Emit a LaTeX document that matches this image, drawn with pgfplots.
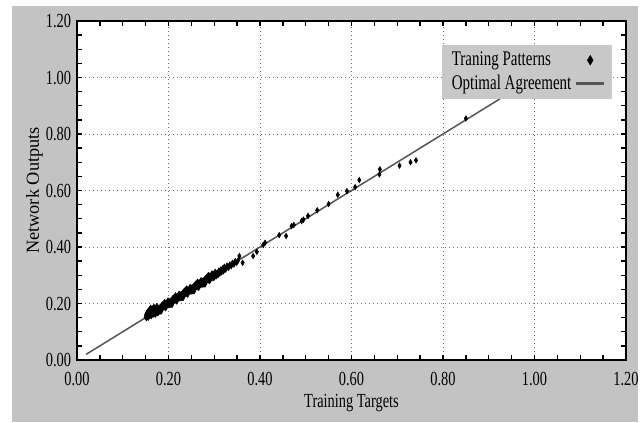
\documentclass[border=0pt]{standalone}
\usepackage{fontspec}
\setmainfont{Liberation Serif}[FakeStretch=0.72]
\newfontfamily\ylabfont{Liberation Serif}
\usepackage{pgfplots}
\pgfplotsset{compat=1.18}
\definecolor{panelgray}{HTML}{C3C3C3}
\definecolor{leggray}{HTML}{C8C8C8}
\definecolor{linegray}{HTML}{555555}

% scatter of training patterns (target, output)
\pgfplotstableread{
x y
0.150 0.152
0.151 0.160
0.152 0.148
0.153 0.166
0.154 0.155
0.155 0.172
0.156 0.150
0.157 0.162
0.158 0.178
0.159 0.158
0.160 0.168
0.161 0.185
0.162 0.155
0.163 0.174
0.164 0.164
0.165 0.182
0.166 0.160
0.167 0.171
0.168 0.188
0.169 0.165
0.170 0.176
0.171 0.160
0.172 0.182
0.173 0.170
0.174 0.190
0.175 0.165
0.176 0.178
0.177 0.186
0.178 0.168
0.179 0.180
0.180 0.172
0.182 0.188
0.184 0.172
0.186 0.188
0.188 0.198
0.190 0.186
0.192 0.204
0.194 0.184
0.196 0.200
0.198 0.196
0.200 0.208
0.202 0.196
0.204 0.196
0.206 0.212
0.208 0.196
0.210 0.212
0.212 0.222
0.214 0.210
0.216 0.228
0.218 0.208
0.220 0.224
0.222 0.220
0.224 0.232
0.226 0.220
0.228 0.220
0.230 0.236
0.232 0.220
0.234 0.236
0.236 0.246
0.238 0.234
0.240 0.252
0.242 0.232
0.244 0.248
0.246 0.244
0.248 0.256
0.250 0.244
0.252 0.244
0.254 0.260
0.256 0.244
0.258 0.260
0.260 0.270
0.262 0.258
0.264 0.276
0.266 0.256
0.268 0.272
0.270 0.268
0.272 0.280
0.274 0.268
0.276 0.268
0.278 0.284
0.280 0.268
0.282 0.284
0.284 0.294
0.286 0.282
0.288 0.300
0.290 0.280
0.292 0.296
0.294 0.292
0.296 0.304
0.298 0.292
0.300 0.292
0.181 0.184
0.183 0.172
0.185 0.194
0.187 0.182
0.189 0.190
0.191 0.204
0.193 0.184
0.195 0.202
0.197 0.194
0.199 0.210
0.201 0.194
0.203 0.208
0.205 0.208
0.207 0.196
0.209 0.218
0.211 0.206
0.213 0.214
0.215 0.228
0.217 0.208
0.219 0.226
0.221 0.218
0.223 0.234
0.225 0.218
0.227 0.232
0.229 0.232
0.231 0.220
0.233 0.242
0.235 0.230
0.237 0.238
0.239 0.252
0.241 0.232
0.243 0.250
0.245 0.242
0.247 0.258
0.249 0.242
0.251 0.256
0.253 0.256
0.255 0.244
0.257 0.266
0.259 0.254
0.261 0.262
0.263 0.276
0.265 0.256
0.267 0.274
0.269 0.266
0.271 0.282
0.273 0.266
0.275 0.280
0.277 0.280
0.279 0.268
0.281 0.290
0.283 0.278
0.285 0.286
0.287 0.300
0.289 0.280
0.291 0.298
0.293 0.290
0.295 0.306
0.297 0.290
0.299 0.304
0.302 0.312
0.304 0.296
0.306 0.308
0.308 0.300
0.310 0.316
0.312 0.306
0.314 0.320
0.316 0.310
0.318 0.324
0.320 0.314
0.322 0.330
0.325 0.320
0.328 0.334
0.331 0.326
0.334 0.338
0.337 0.332
0.340 0.344
0.343 0.338
0.346 0.350
0.349 0.344
0.352 0.352
0.355 0.368
0.362 0.344
0.385 0.368
0.393 0.383
0.407 0.407
0.411 0.415
0.442 0.442
0.457 0.439
0.469 0.474
0.474 0.478
0.491 0.492
0.495 0.497
0.505 0.510
0.525 0.530
0.550 0.552
0.570 0.585
0.590 0.598
0.608 0.612
0.617 0.637
0.661 0.657
0.662 0.675
0.705 0.688
0.729 0.700
0.741 0.707
0.850 0.855
}\patterns

\begin{document}
\begin{tikzpicture}
\useasboundingbox (0,0) rectangle (385.8pt,253.8pt);
\fill[white] (0,0) rectangle (385.8pt,253.8pt);
\fill[panelgray] (7.2pt,0.6pt) rectangle (382.8pt,250.2pt);
\begin{axis}[
  at={(46.2pt,37.8pt)}, anchor=south west,
  scale only axis, width=329.4pt, height=203.4pt,
  xmin=0, xmax=1.2, ymin=0, ymax=1.2,
  xtick={0,0.2,...,1.21}, ytick={0,0.2,...,1.21},
  minor tick num=3,
  tick align=inside, major tick length=3pt, minor tick length=3pt,
  every tick/.style={black, line width=0.8pt},
  axis line style={black, line width=1.1pt},
  axis background/.style={fill=white},
  grid=major, major grid style={black!55, dotted, line width=0.5pt},
  /pgf/number format/assume math mode=true,
  xticklabel style={/pgf/number format/fixed, /pgf/number format/fixed zerofill, /pgf/number format/precision=2, yshift=-4pt},
  yticklabel style={/pgf/number format/fixed, /pgf/number format/fixed zerofill, /pgf/number format/precision=2},
  tick label style={font=\fontsize{12}{14}\selectfont},
  xlabel={Training Targets},
  ylabel={Network Outputs},
  xlabel style={font=\fontsize{12}{14}\selectfont, yshift=2pt},
  ylabel style={font=\ylabfont\fontsize{11}{13}\selectfont, yshift=-5pt},
  legend plot pos=right,
  legend cell align=left,
  legend style={at={(0.976,0.929)}, anchor=north east, fill=leggray, draw=none,
    font=\fontsize{12.5}{14}\selectfont, row sep=0pt, inner xsep=4pt, inner ysep=2pt},
]
\addplot[only marks, mark=diamond*, mark size=1.6pt, black,
  mark options={xscale=0.8},
  legend image post style={mark size=2.8pt}] table {\patterns};
\addlegendentry{Traning Patterns}
\addplot[linegray, line width=0.9pt,
  legend image post style={line width=1.6pt}] coordinates {(0.02,0.02) (1.05,1.05)};
\addlegendentry{Optimal Agreement}
\end{axis}
\end{tikzpicture}
\end{document}
